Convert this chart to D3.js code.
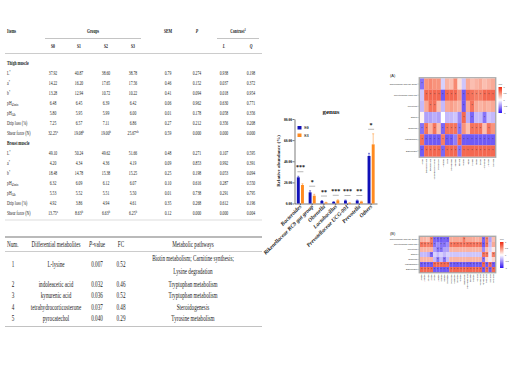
<!DOCTYPE html>
<html>
<head>
<meta charset="utf-8">
<script src="https://cdn.jsdelivr.net/npm/d3@7"></script>
<style>
  body { margin: 0; background: #fff; }
  svg { display: block; }
</style>
</head>
<body>
<svg id="chart" width="520" height="370"></svg>
<script>
// ---- table 1: meat quality ----
const groupNames = ["S0", "S1", "S2", "S3"];
const contrastNames = ["L", "Q"];
const traitLabels = ["L^*", "a^*", "b^*", "pH_45min", "pH_24h", "Drip loss (%)", "Shear force (N)"];
const thighValues = [
  ["37.92", "40.87", "38.60", "38.78", "0.79", "0.274", "0.938", "0.198"],
  ["14.22", "16.20", "17.65", "17.56", "0.46", "0.152", "0.037", "0.372"],
  ["13.28", "12.94", "10.72", "10.22", "0.41", "0.094", "0.018", "0.954"],
  ["6.48", "6.45", "6.39", "6.42", "0.06", "0.962", "0.630", "0.771"],
  ["5.80", "5.95", "5.99", "6.00", "0.01", "0.178", "0.058", "0.356"],
  ["7.25", "6.57", "7.11", "6.86", "0.27", "0.212", "0.356", "0.208"],
  ["32.25^a", "19.08^b", "19.00^b", "25.67^ab", "0.59", "0.000", "0.000", "0.000"]
];
const breastValues = [
  ["49.10", "50.24", "49.62", "51.66", "0.48", "0.271", "0.107", "0.595"],
  ["4.20", "4.34", "4.36", "4.19", "0.09", "0.853", "0.992", "0.391"],
  ["18.48", "14.78", "15.38", "15.25", "0.25", "0.198", "0.053", "0.094"],
  ["6.32", "6.09", "6.12", "6.07", "0.10", "0.616", "0.287", "0.550"],
  ["5.53", "5.52", "5.51", "5.50", "0.01", "0.738", "0.291", "0.795"],
  ["4.92", "3.86", "4.94", "4.61", "0.35", "0.268", "0.612", "0.196"],
  ["13.75^a", "8.63^b", "6.63^b", "6.25^b", "0.12", "0.000", "0.000", "0.004"]
];

// ---- table 2: differential metabolites ----
const metaboliteNums = ["1", "2", "3", "4", "5"];
const metaboliteNames = ["L-lysine", "indoleacetic acid", "kynurenic acid", "tetrahydrocorticosterone", "pyrocatechol"];
const metabolitePvalues = ["0.007", "0.032", "0.036", "0.037", "0.040"];
const metaboliteFC = ["0.52", "0.46", "0.52", "0.48", "0.29"];
const metabolitePathways = [
  ["Biotin metabolism; Carnitine synthesis;", "Lysine degradation"],
  ["Tryptophan metabolism"],
  ["Tryptophan metabolism"],
  ["Steroidogenesis"],
  ["Tyrosine metabolism"]
];

// ---- bar chart: genus ----
const genera = ["Bacteroides", "Rikenellaceae RC9 gut group", "Olsenella", "Lactobacillus",
  "Prevotellaceae UCG-001", "Prevotella", "Others"];
const barGroups = ["S0", "S3"];
const abundS0 = [24.8, 10.6, 2.4, 1.5, 2.8, 2.8, 45.0];
const abundS3 = [17.5, 7.4, 1.0, 3.0, 0.6, 1.8, 56.0];
const errS0 = [1.0, 1.5, 0.4, 0.3, 0.5, 0.5, 2.5];
const errS3 = [1.2, 1.3, 0.2, 0.5, 0.1, 0.4, 10.0];
const sigMarks = ["***", "*", "**", "***", "***", "**", "*"];
const yTicks = [0, 20, 40, 60, 80];

// ---- heatmaps: genus x metabolite correlation ----
const heatRows = ["Rikenellaceae RC9 gut group", "Prevotellaceae UCG-001", "Prevotella", "Others",
  "Olsenella", "Lactobacillus", "Bacteroides"];
const heatColsA = ["L-lysine", "indoleacetic acid", "kynurenic acid", "tetrahydrocorticosterone",
  "pyrocatechol", "L-carnitine", "biotin", "hypoxanthine", "xanthine", "uric acid", "creatine",
  "taurine", "betaine", "choline", "inosine", "L-tryptophan", "L-tyrosine", "serotonin"];
const heatValuesA = [
  [-0.6, 0.5, 0.55, 0.5, 0.5, -0.2, 0.35, 0.3, 0.55, 0.15, -0.25, 0.4, 0.3, 0.35, 0.4, 0.3, 0.35, 0.4],
  [-0.25, 0.7, 0.7, 0.7, 0.7, -0.7, 0.7, 0.7, 0.7, 0.5, -0.7, 0.7, 0.65, 0.6, 0.6, 0.7, 0.7, 0.7],
  [-0.3, 0.4, 0.65, 0.65, 0.3, -0.3, 0.4, 0.45, 0.4, 0.35, -0.7, 0.4, 0.65, 0.4, 0.35, 0.4, 0.35, 0.4],
  [0.05, -0.4, -0.4, -0.35, -0.4, 0.0, -0.3, -0.3, -0.25, -0.5, 0.7, -0.35, -0.65, -0.3, -0.3, -0.6, -0.25, -0.3],
  [-0.6, 0.65, 0.35, 0.65, 0.3, -0.65, 0.65, 0.65, 0.65, -0.6, 0.5, 0.3, 0.65, 0.65, 0.65, 0.3, 0.65, 0.5],
  [0.65, -0.7, -0.7, -0.7, -0.7, 0.6, -0.7, -0.7, -0.55, 0.7, -0.7, -0.7, -0.7, -0.7, -0.7, -0.7, -0.7, -0.7],
  [-0.7, 0.7, 0.7, 0.7, 0.7, -0.65, 0.7, 0.7, 0.7, -0.6, 0.7, 0.7, 0.7, 0.7, 0.7, 0.7, 0.7, 0.7]
];
const heatColsB = ["L-valine", "L-leucine", "L-proline", "L-serine", "glycine", "L-alanine",
  "citrulline", "ornithine", "spermidine", "putrescine", "cadaverine", "histamine", "tyramine",
  "niacinamide", "pantothenic acid", "riboflavin", "thiamine", "folic acid", "succinic acid",
  "fumaric acid", "malic acid", "citric acid", "lactic acid"];
const heatValuesB = [
  [0.35, 0.35, 0.3, 0.6, -0.65, -0.7, -0.7, -0.65, -0.7, 0.4, 0.4, 0.4, 0.4, 0.6, 0.4, 0.4, 0.4, 0.35, 0.4, -0.65, 0.6, -0.4, 0.3],
  [0.65, 0.65, 0.6, 0.65, -0.6, -0.5, -0.6, -0.6, -0.5, 0.65, 0.65, 0.65, 0.65, 0.65, 0.65, 0.65, 0.65, 0.65, 0.65, -0.7, 0.65, -0.3, 0.4],
  [0.35, 0.35, 0.35, 0.35, -0.4, -0.6, -0.6, -0.4, -0.4, 0.35, 0.35, 0.35, 0.35, 0.35, 0.35, 0.35, 0.35, 0.35, 0.35, -0.5, 0.3, -0.2, 0.1],
  [-0.3, -0.3, -0.35, -0.65, -0.2, -0.3, -0.2, -0.3, -0.2, -0.25, -0.25, -0.25, -0.25, -0.25, -0.25, -0.25, -0.25, -0.25, -0.25, 0.65, 0.65, -0.1, 0.6],
  [0.35, 0.35, 0.35, 0.35, -0.3, -0.6, -0.3, -0.6, -0.3, 0.35, 0.35, 0.35, 0.35, 0.35, 0.35, 0.35, 0.35, 0.35, 0.35, -0.6, 0.2, -0.1, 0.2],
  [-0.7, -0.7, -0.7, -0.7, 0.7, 0.7, 0.7, 0.7, 0.7, -0.7, -0.7, -0.7, -0.7, -0.7, -0.7, -0.7, -0.7, -0.7, -0.7, 0.7, -0.7, 0.7, -0.7],
  [0.7, 0.7, 0.7, 0.7, -0.7, -0.7, -0.7, -0.7, -0.7, 0.7, 0.7, 0.7, 0.7, 0.7, 0.7, 0.7, 0.7, 0.7, 0.7, -0.7, 0.7, -0.7, 0.7]
];
const corrTicks = [1, 0.5, 0, -0.5, -1];

const serif = "'Liberation Serif', 'Times New Roman', serif";
const sans = "'Liberation Sans', Arial, sans-serif";

const svg = d3.select("#chart");
svg.append("rect").attr("width", 520).attr("height", 370).attr("fill", "#fff");

// text helper: "^x" -> superscript, "_x" -> subscript, condensed with sx
function put(g, x, y, str, o = {}) {
  const t = g.append("text")
    .attr("transform", `translate(${x},${y}) scale(${o.sx || 1},1)`)
    .attr("text-anchor", o.anchor || "middle")
    .attr("font-family", o.family || serif)
    .attr("font-size", o.size || 4.6)
    .attr("font-weight", o.weight || null)
    .attr("font-style", o.style || null)
    .attr("fill", o.fill || "#1a1a1a");
  const parts = str.split(/(\^[^\s^_]+|_[^\s^_]+)/).filter(p => p !== "");
  let shift = 0;
  parts.forEach(p => {
    let dy = 0, txt = p, small = false;
    if (p[0] === "^") { dy = -0.4; txt = p.slice(1); small = true; }
    else if (p[0] === "_") { dy = 0.3; txt = p.slice(1); small = true; }
    const ts = t.append("tspan").text(txt).attr("dy", `${dy - shift}em`);
    if (small) ts.attr("font-size", (o.size || 4.6) * 0.7);
    shift = dy;
  });
  return t;
}

// ================= table 1 =================
const t1 = svg.append("g");
const colX = [53, 79, 106, 133, 168, 197, 224, 251];
const t1Font = { size: 5.4, sx: 0.7 };
const bold = { ...t1Font, weight: "bold" };

put(t1, 7, 33, "Items", { ...bold, anchor: "start" });
put(t1, 93, 33, "Groups", bold);
put(t1, colX[4], 33, "SEM", bold);
put(t1, colX[5], 33, "P", { ...bold, style: "italic" });
put(t1, 238, 33, "Contrast^1", bold);
t1.append("line").attr("x1", 45).attr("x2", 141).attr("y1", 38.5).attr("y2", 38.5)
  .attr("stroke", "#888").attr("stroke-width", 0.5);
t1.append("line").attr("x1", 217).attr("x2", 259).attr("y1", 38.5).attr("y2", 38.5)
  .attr("stroke", "#888").attr("stroke-width", 0.5);
groupNames.forEach((s, i) => put(t1, colX[i], 48, s, bold));
contrastNames.forEach((s, i) => put(t1, colX[6 + i], 48, s, { ...bold, style: "italic" }));
t1.append("line").attr("x1", 5).attr("x2", 262).attr("y1", 53.5).attr("y2", 53.5)
  .attr("stroke", "#999").attr("stroke-width", 0.5);

const rowStep = 10;
function section(title, top, values) {
  put(t1, 7, top, title, { ...bold, anchor: "start" });
  values.forEach((row, r) => {
    const y = top + rowStep * (r + 1);
    put(t1, 7, y, traitLabels[r], { ...t1Font, anchor: "start" });
    row.forEach((v, c) => put(t1, colX[c], y, v, t1Font));
  });
}
section("Thigh muscle", 65, thighValues);
section("Breast muscle", 65 + rowStep * 8, breastValues);
t1.append("line").attr("x1", 5).attr("x2", 262).attr("y1", 220).attr("y2", 220)
  .attr("stroke", "#bbb").attr("stroke-width", 0.5);

// ================= table 2 =================
const t2 = svg.append("g");
const t2Font = { size: 8.6, sx: 0.6 };
const t2X = [13, 56, 97, 121, 193];
t2.append("line").attr("x1", 5).attr("x2", 262).attr("y1", 237).attr("y2", 237)
  .attr("stroke", "#777").attr("stroke-width", 1.2);
put(t2, 7, 247, "Num.", { ...t2Font, anchor: "start" });
put(t2, t2X[1], 247, "Differential metabolites", t2Font);
const pv = put(t2, t2X[2], 247, "", t2Font);
pv.append("tspan").attr("font-style", "italic").text("P");
pv.append("tspan").text("-value");
put(t2, t2X[3], 247, "FC", t2Font);
put(t2, t2X[4], 247, "Metabolic pathways", t2Font);
t2.append("line").attr("x1", 5).attr("x2", 262).attr("y1", 251.5).attr("y2", 251.5)
  .attr("stroke", "#999").attr("stroke-width", 0.5);
const rowY2 = [267, 287, 298, 310, 321];
metaboliteNums.forEach((n, i) => {
  const y = rowY2[i];
  put(t2, t2X[0], y, n, t2Font);
  put(t2, t2X[1], y, metaboliteNames[i], t2Font);
  put(t2, t2X[2], y, metabolitePvalues[i], t2Font);
  put(t2, t2X[3], y, metaboliteFC[i], t2Font);
  const lines = metabolitePathways[i];
  lines.forEach((ln, k) => {
    const yy = lines.length > 1 ? y - 6.5 + k * 13 : y;
    put(t2, t2X[4], yy, ln, t2Font);
  });
});
t2.append("line").attr("x1", 5).attr("x2", 262).attr("y1", 326.5).attr("y2", 326.5)
  .attr("stroke", "#999").attr("stroke-width", 0.6);

// ================= bar chart =================
const bc = svg.append("g");
const colors = { S0: "#1010b8", S3: "#ff8a1e" };
const x0 = d3.scaleBand().domain(genera).range([294.5, 377]);
const x1 = d3.scaleBand().domain(barGroups)
  .range([x0.bandwidth() * 0.2, x0.bandwidth() * 0.8]).paddingInner(0.3);
const y = d3.scaleLinear().domain([0, 80]).range([203.5, 119]);

bc.append("g")
  .attr("transform", "translate(294.5,0)")
  .call(d3.axisLeft(y).tickValues(yTicks).tickFormat(d3.format(".2f")).tickSize(2).tickSizeOuter(0))
  .call(g => g.selectAll("path,line").attr("stroke", "#222").attr("stroke-width", 0.6))
  .call(g => g.selectAll("text").attr("font-size", 3.6).attr("font-family", serif)
    .attr("font-weight", "bold").attr("x", -2.5));
bc.append("g")
  .attr("transform", "translate(0,203.5)")
  .call(d3.axisBottom(x0).tickSize(1.5).tickSizeOuter(0).tickFormat(""))
  .call(g => g.selectAll("path,line").attr("stroke", "#222").attr("stroke-width", 0.6));

genera.forEach((gname, i) => {
  const cx = x0(gname) + x0.bandwidth() / 2;
  put(bc, cx + 1.5, 207, gname, { size: 5.6, weight: "bold", style: "italic", anchor: "end" })
    .attr("transform", `translate(${cx + 1.5},207) rotate(-45)`);
});

const barData = genera.flatMap((g, i) => [
  { g, k: "S0", v: abundS0[i], e: errS0[i] },
  { g, k: "S3", v: abundS3[i], e: errS3[i] }
]);
bc.selectAll(".bar").data(barData).join("rect")
  .attr("class", "bar")
  .attr("x", d => x0(d.g) + x1(d.k))
  .attr("y", d => y(d.v))
  .attr("width", x1.bandwidth())
  .attr("height", d => y(0) - y(d.v))
  .attr("fill", d => colors[d.k]);
bc.selectAll(".err").data(barData).join("path")
  .attr("class", "err")
  .attr("d", d => {
    const cx = x0(d.g) + x1(d.k) + x1.bandwidth() / 2;
    return `M${cx},${y(d.v)}V${y(d.v + d.e)}M${cx - 1},${y(d.v + d.e)}H${cx + 1}`;
  })
  .attr("stroke", d => colors[d.k]).attr("stroke-width", 0.5).attr("fill", "none");

genera.forEach((gname, i) => {
  const cx = x0(gname) + x0.bandwidth() / 2;
  const top = y(Math.max(abundS0[i] + errS0[i], abundS3[i] + errS3[i]));
  bc.append("line").attr("x1", cx - 3).attr("x2", cx + 3)
    .attr("y1", top - 4.5).attr("y2", top - 4.5).attr("stroke", "#999").attr("stroke-width", 0.7);
  put(bc, cx, top - 7, sigMarks[i], { size: 6, weight: "bold", fill: "#111" });
});

put(bc, 331, 114, "genus", { size: 7, weight: "bold" });
put(bc, 0, 0, "Relative abundance (%)", { size: 5, weight: "bold" })
  .attr("transform", "translate(280,161) rotate(-90)");

barGroups.forEach((k, i) => {
  bc.append("rect").attr("x", 297.5).attr("y", 126 + i * 7.5).attr("width", 4).attr("height", 3.5)
    .attr("fill", colors[k]);
  put(bc, 304, 129.3 + i * 7.5, k, { size: 4.4, weight: "bold", anchor: "start" });
});

// ================= heatmaps =================
const corrColor = d3.scaleLinear().domain([-1, -0.5, 0, 0.5, 1])
  .range(["#2d12f2", "#9c8af8", "#ffffff", "#f8937c", "#ee2810"]);

const defs = svg.append("defs");
const grad = defs.append("linearGradient").attr("id", "corrGrad")
  .attr("x1", 0).attr("y1", 0).attr("x2", 0).attr("y2", 1);
corrTicks.forEach((v, i) => grad.append("stop")
  .attr("offset", `${i * 25}%`).attr("stop-color", corrColor(v)));

function heatmap(opt) {
  const g = svg.append("g");
  const xs = d3.scaleBand().domain(opt.cols).range([opt.x, opt.x + opt.w]);
  const ys = d3.scaleBand().domain(heatRows).range([opt.y, opt.y + opt.h]);
  const cells = opt.values.flatMap((row, r) => row.map((v, c) => ({ r: heatRows[r], c: opt.cols[c], v })));

  g.append("rect").attr("x", opt.x - 0.7).attr("y", opt.y - 0.7)
    .attr("width", opt.w + 1.4).attr("height", opt.h + 1.4)
    .attr("fill", "none").attr("stroke", "#aaa").attr("stroke-width", 1.4);
  g.selectAll(".cell").data(cells).join("rect")
    .attr("x", d => xs(d.c)).attr("y", d => ys(d.r))
    .attr("width", xs.bandwidth() + 0.1).attr("height", ys.bandwidth() + 0.1)
    .attr("fill", d => corrColor(d.v));
  g.selectAll(".star").data(cells.filter(d => Math.abs(d.v) >= 0.6)).join("text")
    .attr("x", d => xs(d.c) + xs.bandwidth() / 2)
    .attr("y", d => ys(d.r) + ys.bandwidth() / 2 + 1.1)
    .attr("text-anchor", "middle").attr("font-size", 3).attr("font-family", sans)
    .attr("fill", "#333").text("*");

  // row labels + ticks
  heatRows.forEach(rname => {
    const cy = ys(rname) + ys.bandwidth() / 2;
    g.append("line").attr("x1", opt.x - 2.6).attr("x2", opt.x - 1.4).attr("y1", cy).attr("y2", cy)
      .attr("stroke", "#555").attr("stroke-width", 0.3);
    g.append("text").attr("x", opt.x - 3).attr("y", cy + 0.7)
      .attr("text-anchor", "end").attr("font-size", 2.1).attr("font-family", sans)
      .attr("fill", "#222").text(rname);
  });
  // column labels
  opt.cols.forEach(cname => {
    const cx = xs(cname) + xs.bandwidth() / 2;
    g.append("text").attr("transform", `translate(${cx + 0.6},${opt.y + opt.h + 2.5}) rotate(-90)`)
      .attr("text-anchor", "end").attr("font-size", 1.9).attr("font-family", sans)
      .attr("fill", "#222").text(cname);
  });

  // colour bar
  const cb = d3.scaleLinear().domain([1, -1]).range([opt.cbY, opt.cbY + opt.cbH]);
  g.append("rect").attr("x", opt.cbX).attr("y", opt.cbY).attr("width", 3.5).attr("height", opt.cbH)
    .attr("fill", "url(#corrGrad)");
  corrTicks.forEach(v => {
    g.append("text").attr("x", opt.cbX + 5).attr("y", cb(v) + 0.8)
      .attr("font-size", 2.2).attr("font-family", sans).attr("fill", "#333").text(v);
  });
  g.append("text").attr("x", opt.cbX).attr("y", opt.cbY - 2)
    .attr("font-size", 2.2).attr("font-family", sans).attr("fill", "#333").text("corr");
  g.append("text").attr("x", 390).attr("y", opt.y - 2)
    .attr("font-size", 4).attr("font-family", sans).attr("fill", "#222").text(opt.tag);
}

heatmap({ tag: "(A)", cols: heatColsA, values: heatValuesA,
  x: 420, y: 78.5, w: 75, h: 78, cbX: 498.5, cbY: 87, cbH: 26 });
heatmap({ tag: "(B)", cols: heatColsB, values: heatValuesB,
  x: 420, y: 237, w: 75, h: 35, cbX: 500, cbY: 242, cbH: 26 });
</script>
</body>
</html>
